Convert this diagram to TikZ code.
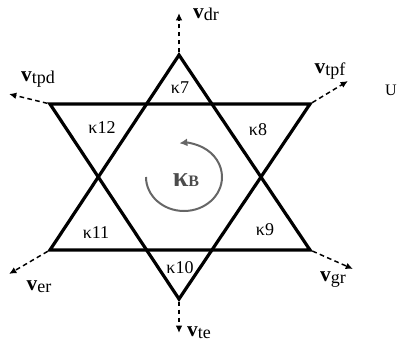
\documentclass[tikz,border=0pt]{standalone}
\usepackage{fontspec}
\setmainfont{Liberation Serif}
\usetikzlibrary{arrows.meta}

\newcommand{\vlab}[1]{\textbf{\fontsize{16}{17}\selectfont v}\raisebox{-0.25ex}{#1}}

\begin{document}
\begin{tikzpicture}[
  x=0.75pt, y=-0.75pt,
  font=\fontsize{13.5}{15}\selectfont,
  >=Latex,
  star/.style={line width=2.4pt, line join=miter},
  dasharrow/.style={-{Latex[length=5.5pt,width=5pt]}, line width=1.1pt, dash pattern=on 3.5pt off 2.5pt, shorten <=2pt},
  kap/.style={inner sep=0pt},
  vel/.style={inner sep=0pt},
  spin/.style={-{Latex[length=6pt,width=6pt]}, line width=1.5pt, draw=black!60}
]
\useasboundingbox (0,0) rectangle (400,342);

% star corners
\coordinate (top) at (179,55);
\coordinate (bot) at (179,299);
\coordinate (tl) at (50,104);
\coordinate (tr) at (310,104);
\coordinate (bl) at (50,250);
\coordinate (br) at (310,250);

\draw[star] (top) -- (br) -- (bl) -- cycle;
\draw[star] (bot) -- (tl) -- (tr) -- cycle;

% ends of the velocity arrows
\coordinate (dr) at (179,13);
\coordinate (tpd) at (9,94);
\coordinate (tpf) at (348,81);
\coordinate (er) at (9,274);
\coordinate (gr) at (353,269);
\coordinate (te) at (179,333);

\draw[dasharrow] (top) -- (dr);
\draw[dasharrow] (tl) -- (tpd);
\draw[dasharrow] (tr) -- (tpf);
\draw[dasharrow] (bl) -- (er);
\draw[dasharrow] (br) -- (gr);
\draw[dasharrow] (bot) -- (te);

\node[vel] (vdr) at (206,14) {\vlab{dr}};
\node[vel] (vtpd) at (38,79) {\vlab{tpd}};
\node[vel] (vtpf) at (330,71) {\vlab{tpf}};
\node[vel] (ver) at (39,287) {\vlab{er}};
\node[vel] (vgr) at (333,280) {\vlab{gr}};
\node[vel] (vte) at (199,333) {\vlab{te}};

\node[font=\fontsize{12}{13}\selectfont] (u) at (391,90) {U};

% sectors
\node[kap] (k7) at (180,88) {κ7};
\node[kap] (k8) at (258,130) {κ8};
\node[kap] (k9) at (265,230) {κ9};
\node[kap] (k10) at (180,268) {κ10};
\node[kap] (k11) at (96,233) {κ11};
\node[kap] (k12) at (102,128) {κ12};

\node[kap, text=black!70] (kb) at (186,180) {\textbf{\fontsize{21}{23}\selectfont κ}\textbf{\fontsize{12}{13}\selectfont B}};
\draw[spin] (kb) ++(-40,-3) arc[start angle=180, end angle=-97, x radius=38, y radius=34];
\end{tikzpicture}
\end{document}
